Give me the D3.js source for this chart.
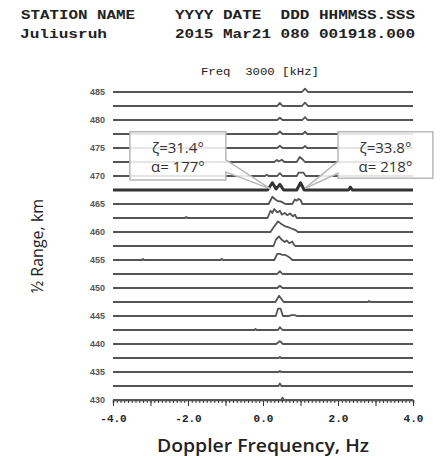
<!DOCTYPE html>
<html>
<head>
<meta charset="utf-8">
<script src="https://d3js.org/d3.v7.min.js"></script>
<style>
  body { margin: 0; background: #fff; }
  text { white-space: pre; }
</style>
</head>
<body>
<div id="main"></div>
<script>
var ctx = {
    w: 444,
    h: 456,
    x0: 113, x1: 413,
    yTop: 92, yBottom: 400,
    traceColor: "#555"
};

// header lines (station / date)
var headerLabels = ["STATION NAME", "YYYY DATE  DDD HHMMSS.SSS"];
var headerValues = ["Juliusruh", "2015 Mar21 080 001918.000"];
var freqTitle = "Freq  3000 [kHz]";

// range levels (km), one trace each, top to bottom
var ranges = [485, 482.5, 480, 477.5, 475, 472.5, 470, 467.5, 465, 462.5, 460, 457.5,
              455, 452.5, 450, 447.5, 445, 442.5, 440, 437.5, 435, 432.5, 430];
var rangeTicks = [485, 480, 475, 470, 465, 460, 455, 450, 445, 440, 435, 430];
var freqTicks = [-4, -3, -2, -1, 0, 1, 2, 3, 4];
var freqLabels = [-4, -2, 0, 2, 4];
var highlighted = 467.5;

// echo peaks: [freq Hz, amplitude km above the baseline]
var peaks = [
    [[1.04, 0], [1.12, 0.6], [1.2, 0]],                                                      // 485
    [[0.38, 0], [0.45, 0.55], [0.52, 0], [1.04, 0], [1.12, 0.6], [1.2, 0]],                   // 482.5
    [[0.38, 0], [0.45, 0.4], [0.52, 0], [1.05, 0], [1.12, 0.5], [1.19, 0]],                   // 480
    [[0.38, 0], [0.45, 0.45], [0.52, 0], [1.06, 0], [1.12, 0.4], [1.18, 0]],                  // 477.5
    [[0.38, 0], [0.45, 0.4], [0.52, 0], [1.06, 0], [1.12, 0.35], [1.18, 0]],                  // 475
    [[0.3, 0], [0.37, 0.35], [0.42, 0.1], [0.5, 0.4], [0.57, 0],
     [0.9, 0], [0.98, 0.9], [1.05, 0.5], [1.12, 0]],                                          // 472.5
    [[0.05, 0], [0.1, 0.25], [0.15, 0], [0.38, 0], [0.45, 0.5], [0.52, 0],
     [0.9, 0], [0.95, 0.6], [1.08, 0.6], [1.14, 0]],                                          // 470
    [[0.12, 0], [0.25, 1.3], [0.35, 0.2], [0.45, 1.0], [0.55, 0],
     [0.9, 0], [1.0, 1.3], [1.1, 0], [2.28, 0], [2.33, 0.5], [2.38, 0]],                      // 467.5
    [[0.15, 0], [0.25, 1.3], [0.33, 0.8], [0.4, 0.5], [0.5, 0.4], [0.55, 0.15], [0.6, 0],
     [0.78, 0], [0.85, 0.8], [0.9, 0.6], [0.95, 0.9], [1.0, 0.7], [1.05, 0]],                 // 465
    [[-2.08, 0], [-2.05, 0.2], [-2.02, 0],
     [0.12, 0], [0.2, 1.3], [0.25, 0.9], [0.3, 1.6], [0.38, 1.0], [0.45, 1.3], [0.5, 0.6],
     [0.58, 0.9], [0.65, 0.5], [0.72, 0.8], [0.8, 0.3], [0.85, 0.6], [0.9, 0]],               // 462.5
    [[0.2, 0], [0.28, 0.8], [0.4, 1.9], [0.5, 1.4], [0.6, 1.0], [0.7, 0.8], [0.8, 0.5],
     [0.88, 0.3], [0.93, 0]],                                                                 // 460
    [[0.28, 0], [0.35, 1.2], [0.43, 1.7], [0.5, 1.1], [0.58, 0.7], [0.63, 1.0], [0.7, 0.5],
     [0.78, 0.8], [0.82, 0.3], [0.86, 0]],                                                    // 457.5
    [[-3.23, 0], [-3.2, 0.2], [-3.17, 0], [-1.13, 0], [-1.1, 0.2], [-1.07, 0],
     [0.3, 0], [0.38, 1.1], [0.45, 1.1], [0.52, 0.9], [0.6, 0.9], [0.7, 0.5], [0.78, 0]],     // 455
    [[0.38, 0], [0.45, 0.5], [0.52, 0]],                                                      // 452.5
    [[0.38, 0], [0.45, 0.4], [0.52, 0]],                                                      // 450
    [[0.33, 0], [0.43, 1.1], [0.55, 0], [2.8, 0], [2.83, 0.2], [2.86, 0]],                    // 447.5
    [[0.34, 0], [0.4, 1.3], [0.47, 1.3], [0.53, 0], [0.7, 0], [0.75, 0.15], [0.85, 0.15], [0.9, 0]], // 445
    [[-0.23, 0], [-0.2, 0.2], [-0.17, 0], [0.4, 0], [0.45, 0.5], [0.52, 0]],                  // 442.5
    [[0.35, 0], [0.45, 0.5], [0.53, 0]],                                                      // 440
    [[0.42, 0], [0.45, 0.2], [0.48, 0]],                                                      // 437.5
    [[0.42, 0], [0.45, 0.2], [0.48, 0]],                                                      // 435
    [[0.41, 0], [0.45, 0.45], [0.49, 0]],                                                     // 432.5
    [[0.48, 0], [0.52, 0.4], [0.56, 0]]                                                       // 430
];

// callouts: zenith / azimuth of the two echo groups
var calloutLines = [["ζ=31.4°", "α= 177°"], ["ζ=33.8°", "α= 218°"]];
var calloutBox = [
    {f0: -3.55, f1: -0.99, r0: 477.9, r1: 469.3, tip: [0.2, 467.7], side: "right", n0: 472.9, n1: 470.7},
    {f0: 2.0, f1: 4.53, r0: 477.9, r1: 469.6, tip: [1.12, 467.8], side: "left", n0: 472.6, n1: 470.5}
];

var createChart = function(svg) {
    var x = d3.scaleLinear().domain([-4, 4]).range([ctx.x0, ctx.x1]);
    var y = d3.scaleLinear().domain([485, 430]).range([ctx.yTop, ctx.yBottom]);

    // header
    var mono = "'Liberation Mono', 'DejaVu Sans Mono', monospace";
    var hdr = svg.append("g").style("font-family", mono).style("font-weight", "bold")
        .style("font-size", "12px").attr("fill", "#222");
    hdr.append("text").attr("x", 21).attr("y", 19).attr("textLength", 114)
        .attr("lengthAdjust", "spacingAndGlyphs").text(headerLabels[0]);
    hdr.append("text").attr("x", 175).attr("y", 19).attr("textLength", 240)
        .attr("lengthAdjust", "spacingAndGlyphs").text(headerLabels[1]);
    hdr.append("text").attr("x", 20).attr("y", 38).attr("textLength", 87)
        .attr("lengthAdjust", "spacingAndGlyphs").text(headerValues[0]);
    hdr.append("text").attr("x", 175).attr("y", 38).attr("textLength", 240)
        .attr("lengthAdjust", "spacingAndGlyphs").text(headerValues[1]);

    svg.append("text").attr("x", 201).attr("y", 75)
        .style("font-family", mono).style("font-size", "11px").attr("fill", "#222")
        .attr("textLength", 118).attr("lengthAdjust", "spacingAndGlyphs")
        .text(freqTitle);

    // x axis: minor ticks every 0.1 Hz, major every 1 Hz
    svg.append("g").attr("transform", "translate(0," + ctx.yBottom + ")")
        .call(d3.axisBottom(x).tickValues(d3.range(-40, 41).map(function(d) { return d / 10; }))
            .tickSize(3).tickFormat(""))
        .call(function(g) {
            g.selectAll("path").attr("stroke", "#333").attr("stroke-width", 1.5);
            g.selectAll("line").attr("stroke", "#333");
        });
    svg.append("g").attr("transform", "translate(0," + ctx.yBottom + ")")
        .call(d3.axisBottom(x).tickValues(freqTicks).tickSize(6).tickPadding(8)
            .tickFormat(function(d) { return freqLabels.indexOf(d) >= 0 ? d3.format(".1f")(d).replace("−", "-") : ""; }))
        .call(function(g) {
            g.select(".domain").remove();
            g.selectAll("line").attr("stroke", "#333");
            g.selectAll("text").style("font-family", mono).style("font-weight", "bold")
                .style("font-size", "11px").attr("fill", "#222");
        });

    // y axis labels only
    svg.append("g").selectAll("text")
        .data(rangeTicks).enter().append("text")
        .attr("x", ctx.x0 - 8).attr("y", function(d) { return y(d); })
        .attr("dy", "0.35em").attr("text-anchor", "end")
        .style("font-family", "'Liberation Sans', Arial, sans-serif").style("font-weight", "bold")
        .style("font-size", "9px").attr("fill", "#555")
        .text(function(d) { return d; });

    // traces
    var line = d3.line()
        .x(function(d) { return x(d[0]); })
        .y(function(d) { return y(d[2] + d[1]); });
    svg.append("g").selectAll("path")
        .data(ranges).enter().append("path")
        .attr("d", function(r, i) {
            var pts = [[-4, 0]].concat(peaks[i]).concat([[4, 0]]);
            return line(pts.map(function(p) { return [p[0], p[1], r]; }));
        })
        .attr("fill", "none")
        .attr("stroke", function(r) { return r === highlighted ? "#333" : ctx.traceColor; })
        .attr("stroke-width", function(r) { return r === highlighted ? 3 : 1.8; })
        .attr("stroke-linejoin", "round");

    // callouts
    var sans = "'Open Sans', 'Noto Sans', sans-serif";
    calloutBox.forEach(function(b, i) {
        var xa = x(b.f0), xb = x(b.f1), ya = y(b.r0), yb = y(b.r1);
        var tx = x(b.tip[0]), ty = y(b.tip[1]);
        var path;
        if (b.side === "right") {
            path = "M" + xa + "," + ya + "H" + xb + "V" + y(b.n0) + "L" + tx + "," + ty +
                "L" + xb + "," + y(b.n1) + "V" + yb + "H" + xa + "Z";
        } else {
            path = "M" + xa + "," + ya + "H" + xb + "V" + yb + "H" + xa + "V" + y(b.n1) +
                "L" + tx + "," + ty + "L" + xa + "," + y(b.n0) + "Z";
        }
        svg.append("path").attr("d", path)
            .attr("fill", "#fff").attr("fill-opacity", 0.85)
            .attr("stroke", "#b8b8b8").attr("stroke-width", 1.5);
        calloutLines[i].forEach(function(t, j) {
            svg.append("text")
                .attr("x", (xa + xb) / 2).attr("y", ya + 21 + j * 19)
                .attr("text-anchor", "middle")
                .style("font-family", sans).style("font-size", "15px").attr("fill", "#333")
                .text(t);
        });
    });

    // axis titles
    svg.append("text")
        .attr("transform", "translate(43," + y(457.5) + ") rotate(-90)")
        .attr("text-anchor", "middle")
        .style("font-family", sans).style("font-size", "16px").attr("fill", "#222")
        .text("½ Range, km");
    svg.append("text")
        .attr("x", x(0)).attr("y", 452).attr("text-anchor", "middle")
        .style("font-family", sans).style("font-weight", "600").style("font-size", "18px")
        .attr("fill", "#222")
        .attr("textLength", 212).attr("lengthAdjust", "spacingAndGlyphs")
        .text("Doppler Frequency, Hz");
};

var createViz = function() {
    var svgEl = d3.select("#main").append("svg");
    svgEl.attr("width", ctx.w);
    svgEl.attr("height", ctx.h);
    createChart(svgEl);
};

createViz();
</script>
</body>
</html>
